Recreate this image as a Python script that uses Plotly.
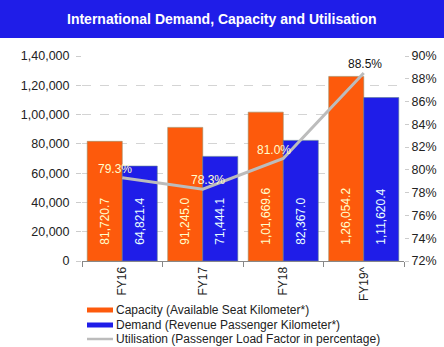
import plotly.graph_objects as go

categories = ["FY16", "FY17", "FY18", "FY19^"]
capacity = [81720.7, 91245.0, 101669.6, 126054.2]
demand = [64821.4, 71444.1, 82367.0, 111620.4]
utilisation = [79.3, 78.3, 81.0, 88.5]
left_ticks = [0, 20000, 40000, 60000, 80000, 100000, 120000, 140000]
right_ticks = [72, 74, 76, 78, 80, 82, 84, 86, 88, 90]
series_names = ["Capacity (Available Seat Kilometer*)",
                "Demand (Revenue Passenger Kilometer*)",
                "Utilisation (Passenger Load Factor in percentage)"]


def indian(n, dec=1):
    s = f"{n:.{dec}f}"
    if "." in s:
        ip, fp = s.split(".")
        fp = "." + fp
    else:
        ip, fp = s, ""
    if len(ip) > 3:
        last3 = ip[-3:]
        rest = ip[:-3]
        groups = []
        while len(rest) > 2:
            groups.insert(0, rest[-2:])
            rest = rest[:-2]
        if rest:
            groups.insert(0, rest)
        ip = ",".join(groups + [last3])
    return ip + fp


ORANGE = "#fd5a0c"
BLUE = "#1f1de8"
GREY = "#bcbcbc"
FONT = "Liberation Sans, Arial, sans-serif"
NB = "\u00a0" * 4

W, H = 444, 347
ML, MR, MT, MB = 82, 40, 56, 86
PW, PH = W - ML - MR, H - MT - MB


def px(x):
    return (x - ML) / PW


def py(y):
    return (H - MB - y) / PH


fig = go.Figure()
fig.add_trace(go.Bar(
    x=categories, y=capacity, name=series_names[0],
    marker=dict(color=ORANGE, line=dict(width=0.6, color="#9a8a60")),
    text=[NB + indian(v) for v in capacity], textposition="inside",
    textangle=-90, insidetextanchor="start",
    textfont=dict(color="#ffffcc", size=12, family=FONT),
))
fig.add_trace(go.Bar(
    x=categories, y=demand, name=series_names[1],
    marker=dict(color=BLUE, line=dict(width=0.6, color="#5a7a90")),
    text=[NB + indian(v) for v in demand], textposition="inside",
    textangle=-90, insidetextanchor="start",
    textfont=dict(color="#e8ffff", size=12, family=FONT),
))
fig.add_trace(go.Scatter(
    x=categories, y=utilisation, yaxis="y2", mode="lines",
    name=series_names[2],
    line=dict(color=GREY, width=3),
))

label_colors = ["#ffffcc", "#ffffcc", "#ffffcc", "#111111"]
label_shift = [-7, 5, -9, 1]
for c, u, col, xs in zip(categories, utilisation, label_colors, label_shift):
    fig.add_annotation(x=c, y=u, yref="y2", text=f"{u:.1f}%", showarrow=False,
                       xshift=xs, yshift=9, font=dict(color=col, size=12, family=FONT))

# Title banner
fig.add_shape(type="rect", xref="paper", yref="paper", x0=px(-10), x1=px(W + 10),
              y0=py(38), y1=py(-10), fillcolor=BLUE, line=dict(width=0), layer="below")
fig.add_annotation(xref="paper", yref="paper", x=px(222), y=py(19), yanchor="middle",
                   text="<b>International Demand, Capacity and Utilisation</b>",
                   showarrow=False, font=dict(color="white", size=14, family=FONT))

# Legend (drawn manually for compact spacing)
legend_y = [310, 325, 339]
legend_col = [ORANGE, BLUE, GREY]
for i, (name, ly, col) in enumerate(zip(series_names, legend_y, legend_col)):
    if i < 2:
        fig.add_shape(type="rect", xref="paper", yref="paper", x0=px(87), x1=px(113),
                      y0=py(ly + 2.5), y1=py(ly - 2.5), fillcolor=col, line=dict(width=0))
    else:
        fig.add_shape(type="line", xref="paper", yref="paper", x0=px(87), x1=px(113),
                      y0=py(ly), y1=py(ly), line=dict(color=col, width=2.5))
    fig.add_annotation(xref="paper", yref="paper", x=px(114), y=py(ly), xanchor="left",
                       yanchor="middle", text=name, showarrow=False,
                       font=dict(size=12, color="#222222", family=FONT))

fig.update_layout(
    width=W, height=H,
    margin=dict(l=ML, r=MR, t=MT, b=MB),
    paper_bgcolor="white", plot_bgcolor="white",
    barmode="group", bargap=0.13, bargroupgap=0,
    font=dict(family=FONT, size=12, color="#222222"),
    showlegend=False,
    xaxis=dict(tickangle=-90, showline=True, linecolor="#888888", linewidth=1,
               ticks="outside", tickson="boundaries", ticklen=5, tickcolor="#888888",
               tickfont=dict(size=12, color="#222222"), showgrid=False, automargin=False),
    yaxis=dict(range=[0, 140000], tickvals=left_ticks,
               ticktext=[indian(v, 0) for v in left_ticks],
               showgrid=True, gridcolor="#d4d4d4", griddash="dash", gridwidth=1,
               ticks="outside", ticklen=5, tickcolor="#cccccc", showline=False,
               ticklabelstandoff=4,
               zeroline=False, tickfont=dict(size=12.5, color="#222222"), automargin=False),
    yaxis2=dict(range=[72, 90], tickvals=right_ticks,
                ticktext=[f"{v}%" for v in right_ticks], overlaying="y", side="right",
                showgrid=False, ticks="outside", ticklen=4, tickcolor="#cccccc",
                showline=False, zeroline=False, automargin=False,
                tickfont=dict(size=12.5, color="#222222")),
)

fig.write_html("out.html")
